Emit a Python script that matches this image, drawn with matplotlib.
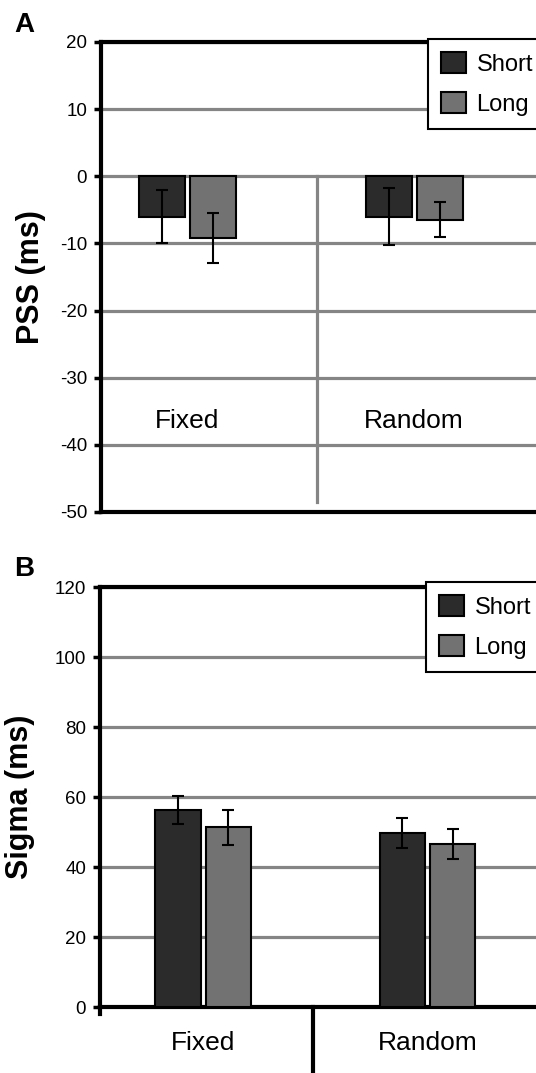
import numpy as np
import matplotlib.pyplot as plt
from matplotlib.patches import Patch

# ============================================================
# Data
# ============================================================

conditions = ["Fixed", "Random"]
series = ["Short", "Long"]

pss_short = [-6.0, -6.0]
pss_long = [-9.2, -6.5]
pss_short_err = [3.9, 4.2]
pss_long_err = [3.7, 2.6]

sigma_short = [56.3, 49.7]
sigma_long = [51.4, 46.6]
sigma_short_err = [3.9, 4.3]
sigma_long_err = [5.0, 4.3]

# ============================================================
# Style
# ============================================================

W, H = 536, 1073
dark = "#2b2b2b"
light = "#727272"
grid_gray = "#858585"
regular = ["Liberation Sans", "DejaVu Sans"]

plt.rcParams["font.family"] = regular
plt.rcParams["axes.unicode_minus"] = False


def px_box(left, top, right, bottom):
    return [left / W, 1 - bottom / H, (right - left) / W, (bottom - top) / H]


fig = plt.figure(figsize=(W / 100, H / 100), dpi=100)


def style_axes(ax, ylim, yticks):
    ax.set_xlim(0, 2.1)
    ax.set_ylim(*ylim)
    ax.set_yticks(yticks)
    ax.set_axisbelow(True)
    ax.yaxis.grid(True, color=grid_gray, linewidth=2.3)
    ax.spines["right"].set_visible(False)
    for s in ["left", "top", "bottom"]:
        ax.spines[s].set_linewidth(3)
        ax.spines[s].set_color("black")
    ax.tick_params(axis="y", direction="out", length=5, width=2.5,
                   pad=5, labelsize=13.5)


def draw_bars(ax, centers, short, long_, short_err, long_err):
    centers = np.array(centers)
    off = 0.118
    width = 0.213
    err_kw = dict(ecolor="black", elinewidth=1.5, capsize=4, capthick=1.5)
    ax.bar(centers - off, short, width, yerr=short_err, color=dark,
           edgecolor="black", linewidth=1.5, error_kw=err_kw, zorder=3)
    ax.bar(centers + off, long_, width, yerr=long_err, color=light,
           edgecolor="black", linewidth=1.5, error_kw=err_kw, zorder=3)


def add_legend(ax, left, top):
    handles = [Patch(facecolor=dark, edgecolor="black", linewidth=1.5),
               Patch(facecolor=light, edgecolor="black", linewidth=1.5)]
    leg = ax.legend(handles, series, loc="upper left",
                    bbox_to_anchor=(left / W, 1 - top / H),
                    bbox_transform=fig.transFigure, borderaxespad=0,
                    prop={"size": 17},
                    handlelength=1.05, handleheight=1.0, handletextpad=0.45,
                    labelspacing=0.7, borderpad=0.55, fancybox=False,
                    framealpha=1, edgecolor="black")
    leg.get_frame().set_linewidth(1.5)
    leg.set_zorder(10)


# ============================================================
# Panel A: PSS
# ============================================================

axA = fig.add_axes(px_box(101, 42, 101 + 2.1 * 216, 512))
style_axes(axA, (-50, 20), np.arange(-50, 21, 10))
centersA = [0.40, 1.45]
draw_bars(axA, centersA, pss_short, pss_long, pss_short_err, pss_long_err)
axA.set_xticks([])
axA.axvline(1.0, ymin=50 / 70, ymax=1.5 / 70, color=grid_gray,
            linewidth=2.3, zorder=2)
for c, name in zip(centersA, conditions):
    axA.text(c, -36.5, name, ha="center", va="center", fontsize=19)
axA.set_ylabel("PSS (ms)", fontsize=22, fontweight="bold", labelpad=10)
add_legend(axA, 428, 39)

# ============================================================
# Panel B: Sigma
# ============================================================

axB = fig.add_axes(px_box(100, 587, 100 + 2.1 * 213, 1007))
style_axes(axB, (0, 120), np.arange(0, 121, 20))
centersB = [0.485, 1.537]
draw_bars(axB, centersB, sigma_short, sigma_long,
          sigma_short_err, sigma_long_err)
axB.set_xticks(centersB)
axB.set_xticklabels(conditions, fontsize=19)
axB.tick_params(axis="x", length=0, pad=17)
axB.axvline(1.0, ymin=-66 / 420, ymax=0, color="black", linewidth=3,
            clip_on=False)
axB.axvline(0.0, ymin=-7 / 420, ymax=0, color="black", linewidth=3,
            clip_on=False)
axB.set_ylabel("Sigma (ms)", fontsize=22, fontweight="bold", labelpad=14)
add_legend(axB, 426, 582)

# panel letters
fig.text(14 / W, 1 - 12 / H, "A", fontsize=20, fontweight="bold",
         ha="left", va="top")
fig.text(14 / W, 1 - 556 / H, "B", fontsize=20, fontweight="bold",
         ha="left", va="top")

fig.savefig("out.png", dpi=100)
